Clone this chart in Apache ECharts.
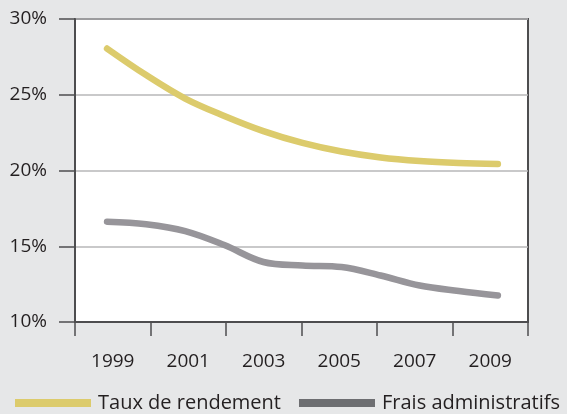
<!DOCTYPE html>
<html>
<head>
<meta charset="utf-8">
<script src="https://cdn.jsdelivr.net/npm/echarts@6/dist/echarts.min.js"></script>
<style>
html,body{margin:0;padding:0;background:#e6e7e8;}
#chart{width:567px;height:414px;}
</style>
</head>
<body>
<div id="chart"></div>
<script>
var years = [1999, 2000, 2001, 2002, 2003, 2004, 2005, 2006, 2007, 2008, 2009];
var tauxRendement = [28.05, 26.3, 24.75, 23.6, 22.6, 21.82, 21.25, 20.86, 20.63, 20.5, 20.43];
var fraisAdmin = [16.62, 16.45, 16.0, 15.08, 13.96, 13.73, 13.63, 13.07, 12.41, 12.05, 11.75];
var xLabels = ['1999', '2001', '2003', '2005', '2007', '2009'];
var seriesNames = ['Taux de rendement', 'Frais administratifs'];

var FONT = '"Open Sans"';
var DARK = '#4d4d4f';
var chart = echarts.init(document.getElementById('chart'));
chart.setOption({
  backgroundColor: '#e6e7e8',
  animation: false,
  textStyle: {fontFamily: FONT},
  grid: {left: 75, right: 39, top: 19, bottom: 92, show: true, backgroundColor: '#ffffff', borderColor: DARK, borderWidth: 2, containLabel: false},
  xAxis: [{
    type: 'category',
    data: xLabels,
    boundaryGap: true,
    axisLine: {show: true, lineStyle: {color: DARK, width: 2}},
    axisTick: {show: true, length: 14, alignWithLabel: false, lineStyle: {color: DARK, width: 1.5}},
    axisLabel: {margin: 30, fontSize: 19, color: '#231f20', fontFamily: FONT},
    splitLine: {show: false}
  }, {
    type: 'value',
    min: 1998.18,
    max: 2009.77,
    show: false
  }],
  yAxis: {
    type: 'value',
    min: 10, max: 30, interval: 5,
    axisLine: {show: true, lineStyle: {color: DARK, width: 2}},
    axisTick: {show: true, length: 16, lineStyle: {color: DARK, width: 1.5}},
    axisLabel: {margin: 28, fontSize: 19, color: '#231f20', fontFamily: FONT, formatter: '{value}%'},
    splitLine: {show: true, lineStyle: {color: '#b7b7b9', width: 1.5}}
  },
  legend: {
    left: 10, top: 388,
    itemWidth: 76, itemHeight: 8, itemGap: 18,
    icon: 'rect',
    textStyle: {fontSize: 20, color: '#231f20', fontFamily: FONT, padding: [0, 0, 8, 2]},
    data: [
      {name: seriesNames[0], itemStyle: {color: '#dccb6c'}},
      {name: seriesNames[1], itemStyle: {color: '#6d6e71'}}
    ]
  },
  series: [{
    name: seriesNames[0],
    type: 'line',
    xAxisIndex: 1,
    data: years.map(function (y, i) { return [y, tauxRendement[i]]; }),
    showSymbol: false,
    smooth: 0.35,
    color: '#dccb6c',
    lineStyle: {width: 6.5, color: '#dccb6c', cap: 'round'}
  }, {
    name: seriesNames[1],
    type: 'line',
    xAxisIndex: 1,
    data: years.map(function (y, i) { return [y, fraisAdmin[i]]; }),
    showSymbol: false,
    smooth: 0.35,
    color: '#97959a',
    lineStyle: {width: 6.5, color: '#97959a', cap: 'round'}
  }]
});
</script>
</body>
</html>
